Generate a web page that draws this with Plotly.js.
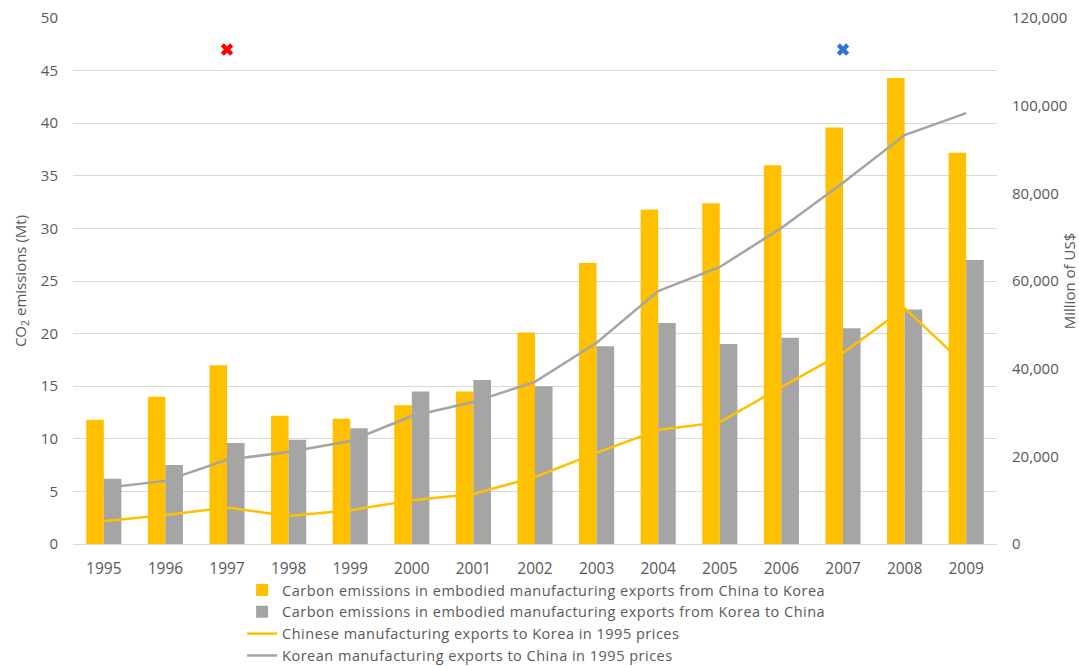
<!DOCTYPE html>
<html>
<head>
<meta charset="utf-8">
<script src="https://cdn.plot.ly/plotly-3.0.1.min.js"></script>
<style>html,body{margin:0;padding:0;background:#fff;}#chart{width:1079px;height:666px;}.legendtext{letter-spacing:0.5px;}</style>
</head>
<body>
<div id="chart"></div>
<script>
const years = ['1995','1996','1997','1998','1999','2000','2001','2002','2003','2004','2005','2006','2007','2008','2009'];
const co2ChinaToKorea = [11.8,14.0,17.0,12.2,11.9,13.2,14.5,20.1,26.7,31.8,32.4,36.0,39.6,44.3,37.2];
const co2KoreaToChina = [6.2,7.5,9.6,9.9,11.0,14.5,15.6,15.0,18.8,21.0,19.0,19.6,20.5,22.3,27.0];
const chineseExports = [5200,6600,8300,6400,7700,10000,11400,15300,20800,26000,27800,35800,43600,53800,40600];
const koreanExports = [12800,14400,19200,21000,23500,29200,32400,37000,45900,57700,63200,72100,82400,93300,98300];
const redMarkYear = ['1997'];
const blueMarkYear = ['2007'];
const markLevel = [47];

const txt = '#595959';
const font = '"Open Sans", Lato, sans-serif';

const traces = [
  {type:'bar', x:years, y:co2ChinaToKorea, name:'Carbon emissions in embodied manufacturing exports from China to Korea', marker:{color:'#FFC000'}},
  {type:'bar', x:years, y:co2KoreaToChina, name:'Carbon emissions in embodied manufacturing exports from Korea to China', marker:{color:'#A5A5A5'}},
  {type:'scatter', mode:'lines', x:years, y:chineseExports, yaxis:'y2', name:'Chinese manufacturing exports to Korea in 1995 prices', line:{color:'#FFC000', width:2.5}},
  {type:'scatter', mode:'lines', x:years, y:koreanExports, yaxis:'y2', name:'Korean manufacturing exports to China in 1995 prices', line:{color:'#A5A5A5', width:2.5}},
  {type:'scatter', mode:'markers', x:redMarkYear, y:markLevel, showlegend:false, marker:{symbol:'x', size:11, color:'#FF0000'}},
  {type:'scatter', mode:'markers', x:blueMarkYear, y:markLevel, showlegend:false, marker:{symbol:'x', size:11, color:'#2E75D6'}}
];

const layout = {
  width:1079, height:666,
  margin:{l:73, r:82, t:18, b:122, autoexpand:false},
  paper_bgcolor:'#fff', plot_bgcolor:'#fff',
  font:{family:font, size:15, color:txt},
  barmode:'group', bargap:0.43, bargroupgap:0,
  showlegend:true,
  legend:{orientation:'v', x:0.183, xanchor:'left', y:-0.057, yanchor:'top', font:{size:14.5, color:txt}, tracegroupgap:0, itemwidth:30, bgcolor:'rgba(0,0,0,0)'},
  xaxis:{type:'category', showgrid:false, showline:true, linecolor:'#D9D9D9', linewidth:1, ticks:'', ticklabelstandoff:10, tickfont:{size:15.5, color:txt}, zeroline:false},
  yaxis:{range:[0,50], dtick:5, showgrid:true, gridcolor:'#D9D9D9', zeroline:false, ticks:'', ticklabelstandoff:14, tickfont:{size:15, color:txt},
         title:{text:'CO<sub>2</sub> emissions (Mt)', font:{size:15, color:txt}, standoff:10}},
  yaxis2:{overlaying:'y', side:'right', range:[0,120000], dtick:20000, tickformat:',d', showgrid:false, zeroline:false, ticks:'', ticklabelstandoff:14, tickfont:{size:15, color:txt},
         title:{text:'Million of US$', font:{size:15, color:txt}, standoff:8}}
};

Plotly.newPlot('chart', traces, layout, {displayModeBar:false, staticPlot:true});
</script>
</body>
</html>
